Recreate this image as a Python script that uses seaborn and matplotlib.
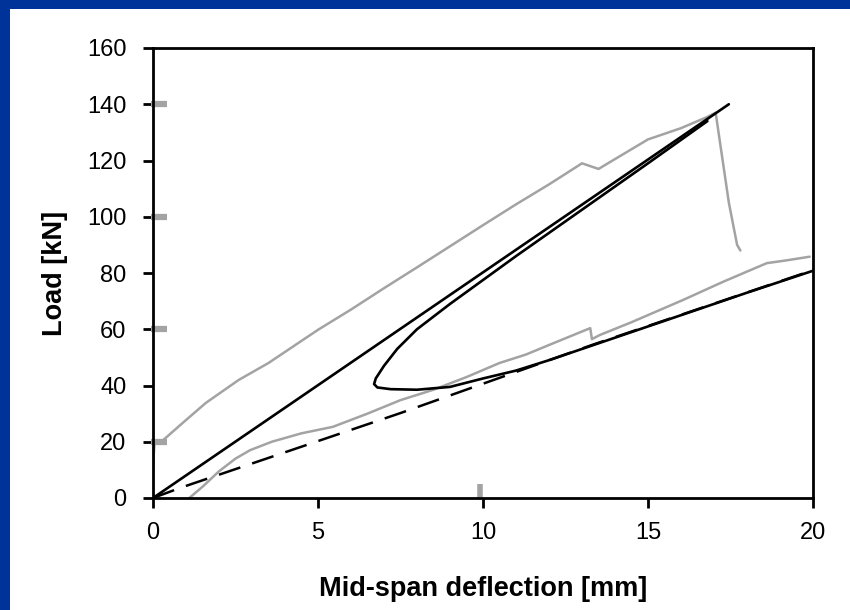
import pandas as pd
import seaborn as sns
import matplotlib.pyplot as plt
from matplotlib.patches import Rectangle

# Test 1 (gray, upper) - loading up to failure
test1_x = [0.0, 0.02, 0.05, 0.3, 0.9, 1.6, 2.6, 3.5, 5.0, 6.0, 7.0, 8.0, 9.0, 10.0, 11.0,
           12.0, 13.0, 13.5, 14.0, 15.0, 16.0, 16.8, 17.05, 17.2, 17.45, 17.7, 17.8]
test1_y = [8.0, 15.0, 20.0, 20.5, 26.7, 33.8, 42.0, 48.0, 59.8, 67.0, 74.6, 82.0, 89.5, 97.0, 104.4,
           111.5, 119.0, 117.0, 120.5, 127.5, 131.5, 135.5, 137.0, 125.0, 105.0, 90.0, 88.0]

# Test 2 (gray, lower)
test2_x = [1.1, 1.5, 2.0, 2.5, 2.94, 3.6, 4.5, 5.45, 6.5, 7.5, 8.5, 9.5, 10.5, 11.3, 12.0,
           13.25, 13.3, 13.55, 14.5, 16.06, 17.3, 18.6, 19.2, 19.9]
test2_y = [0.0, 4.0, 9.5, 14.0, 17.0, 20.0, 23.0, 25.3, 30.0, 34.8, 38.5, 43.0, 48.0, 51.0, 54.4,
           60.4, 56.5, 58.0, 62.5, 70.4, 77.0, 83.5, 84.5, 85.8]

# Model, linear (black solid, straight)
lin_x = [0.0, 17.45]
lin_y = [0.0, 140.0]

# Model with softening branch (black solid loop)
loop_x = [16.8, 15.0, 13.0, 11.0, 10.0, 9.0, 8.0, 7.4, 7.0, 6.75, 6.7, 6.8, 7.2, 8.0, 9.0,
          10.0, 11.0, 12.0, 13.0, 14.0, 16.0, 18.0, 20.0]
loop_y = [134.0, 119.0, 102.5, 86.0, 77.5, 69.0, 60.0, 53.0, 47.0, 42.5, 40.5, 39.3, 38.7, 38.5, 39.5,
          42.5, 45.3, 49.0, 53.0, 57.0, 65.0, 73.0, 80.8]

# Model, cracked (black dashed)
dash_x = [0.0, 0.8, 7.5, 13.3, 20.0]
dash_y = [0.0, 3.5, 30.2, 54.4, 81.0]

# stray gray marks
mark_x = [0.18, 0.18, 0.18, 0.18]
mark_y = [140, 100, 60, 20]
vmark_x = [9.9]
vmark_y = [2.5]

x_ticks = [0, 5, 10, 15, 20]
y_ticks = [0, 20, 40, 60, 80, 100, 120, 140, 160]

gray = "#a3a3a3"


def main():
    sns.set_style("white")
    plt.rcParams["font.family"] = ["Liberation Sans", "DejaVu Sans"]
    plt.rcParams["text.color"] = "black"
    plt.rcParams["axes.labelcolor"] = "black"
    plt.rcParams["xtick.color"] = "black"
    plt.rcParams["ytick.color"] = "black"

    fig = plt.figure(figsize=(8.5, 6.1), dpi=100, facecolor="#003399")
    fig.patches.append(Rectangle((10 / 850, 0), 1, 1 - 9 / 610, transform=fig.transFigure,
                                 facecolor="white", edgecolor="none", zorder=-1))
    ax = fig.add_axes([153 / 850, 1 - 498 / 610, 660 / 850, 450 / 610])

    t1 = pd.DataFrame({"x": test1_x, "y": test1_y})
    t2 = pd.DataFrame({"x": test2_x, "y": test2_y})
    sns.lineplot(data=t1, x="x", y="y", sort=False, estimator=None, color=gray, lw=1.8, ax=ax)
    sns.lineplot(data=t2, x="x", y="y", sort=False, estimator=None, color=gray, lw=1.8, ax=ax)

    lin = pd.DataFrame({"x": lin_x, "y": lin_y})
    loop = pd.DataFrame({"x": loop_x, "y": loop_y})
    dash = pd.DataFrame({"x": dash_x, "y": dash_y})
    sns.lineplot(data=lin, x="x", y="y", sort=False, estimator=None, color="black", lw=1.9, ax=ax)
    sns.lineplot(data=loop, x="x", y="y", sort=False, estimator=None, color="black", lw=1.9, ax=ax)
    sns.lineplot(data=dash, x="x", y="y", sort=False, estimator=None, color="black", lw=1.8,
                 ax=ax, linestyle=(0, (9, 5)))

    ax.plot(mark_x, mark_y, ls="none", marker="_", ms=12, mew=4.5, color=gray, clip_on=False)
    ax.plot(vmark_x, vmark_y, ls="none", marker="|", ms=10, mew=4, color=gray)

    ax.set_xlim(0, 20)
    ax.set_ylim(0, 160)
    ax.set_xticks(x_ticks)
    ax.set_yticks(y_ticks)
    ax.tick_params(axis="both", direction="out", length=7, width=2, color="black",
                   labelcolor="black", labelsize=17, bottom=True, left=True)
    ax.tick_params(axis="y", pad=12)
    ax.tick_params(axis="x", pad=10)
    for s in ax.spines.values():
        s.set_color("black")
        s.set_linewidth(2)

    ax.set_xlabel("Mid-span deflection [mm]", fontsize=19.5, fontweight="bold", labelpad=23,
                  color="black")
    ax.set_ylabel("Load [kN]", fontsize=19.5, fontweight="bold", labelpad=14, color="black")

    fig.savefig("out.png", dpi=100, facecolor=fig.get_facecolor())


main()
